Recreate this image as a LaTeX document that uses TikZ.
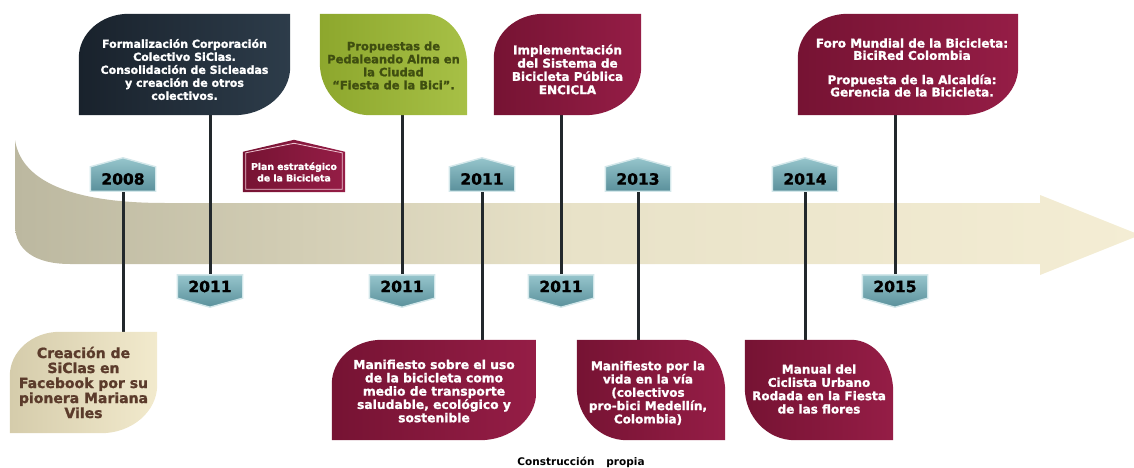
\documentclass[tikz,border=0pt]{standalone}
\usepackage{fontspec}
\setmainfont{DejaVu Sans}[BoldFeatures={FakeBold=1.3}]
\newfontfamily\capfont{DejaVu Sans}
\usetikzlibrary{calc}
\definecolor{navyL}{HTML}{19222C}
\definecolor{navyR}{HTML}{2D3C4A}
\definecolor{marL}{HTML}{761333}
\definecolor{marR}{HTML}{951D46}
\definecolor{grnL}{HTML}{8DA72D}
\definecolor{grnR}{HTML}{A7C046}
\definecolor{grnT}{HTML}{3F4E10}
\definecolor{begL}{HTML}{D5CCAB}
\definecolor{begR}{HTML}{F2EACD}
\definecolor{brnT}{HTML}{5B3B2B}
\definecolor{bandL}{HTML}{BCB8A0}
\definecolor{bandM}{HTML}{E8E2C8}
\definecolor{bandR}{HTML}{F4EDD4}
\definecolor{tealT}{HTML}{96C5CC}
\definecolor{tealB}{HTML}{5A909B}
\definecolor{tealE}{HTML}{D3E7EA}
\definecolor{lineC}{HTML}{22282C}
\definecolor{pinkE}{HTML}{EDC3D0}
\pgfdeclarelayer{bandlayer}
\pgfdeclarelayer{linelayer}
\pgfdeclarelayer{shapelayer}
\pgfsetlayers{bandlayer,linelayer,shapelayer,main}
% leaf with top-left and bottom-right rounded
\newcommand\leafA[3]{%
  \shade[left color=#2,right color=#3] (#1.south west) -- ([yshift=-44pt]#1.north west)
    .. controls ([yshift=-20pt]#1.north west) and ([xshift=22pt]#1.north west) .. ([xshift=50pt]#1.north west)
    -- (#1.north east) -- ([yshift=48pt]#1.south east)
    .. controls ([yshift=22pt]#1.south east) and ([xshift=-25pt]#1.south east) .. ([xshift=-56pt]#1.south east)
    -- cycle;}
% leaf with top-right and bottom-left rounded
\newcommand\leafB[3]{%
  \shade[left color=#2,right color=#3] (#1.north west) -- ([xshift=-42pt]#1.north east)
    .. controls ([xshift=-19pt]#1.north east) and ([yshift=-23pt]#1.north east) .. ([yshift=-52pt]#1.north east)
    -- (#1.south east) -- ([xshift=50pt]#1.south west)
    .. controls ([xshift=22pt]#1.south west) and ([yshift=24pt]#1.south west) .. ([yshift=52pt]#1.south west)
    -- cycle;}
\newcommand\badgeup[1]{%
  \shade[top color=tealT,bottom color=tealB,draw=tealE,line width=1.4pt]
    (#1.south west) -- (#1.north west) -- ([yshift=9pt]#1.north) -- (#1.north east) -- (#1.south east) -- cycle;}
\newcommand\badgedown[1]{%
  \shade[top color=tealT,bottom color=tealB,draw=tealE,line width=1.4pt]
    (#1.north west) -- (#1.north east) -- (#1.south east) -- ([yshift=-9pt]#1.south) -- (#1.south west) -- cycle;}
\begin{document}
\begin{tikzpicture}[x=1pt,y=-1pt,
  boxshape/.style={inner sep=0pt},
  boxtext/.style={inner sep=0pt, align=center},
  yearbadge/.style={inner sep=0pt, minimum width=65pt, minimum height=24pt, text=black,
    font=\fontsize{15.5}{15.5}\selectfont\bfseries},
  conn/.style={draw=lineC, line width=3pt}]
\useasboundingbox (0,0) rectangle (1134,468);

% ---------- band (arrow) ----------
\begin{pgfonlayer}{bandlayer}
\shade[left color=bandL, right color=bandR, middle color=bandM]
  (15,140) .. controls (22,185) and (80,203) .. (165,203) -- (1040,203) -- (1040,195)
  -- (1140,235) -- (1040,275) -- (1040,264) -- (70,264)
  .. controls (35,264) and (15,250) .. (15,225) -- cycle;
\end{pgfonlayer}

% ---------- top boxes ----------
\node[boxshape, minimum width=211pt, minimum height=101pt] (form) at (184.5,64.5) {};
\node[boxtext, text=white, font=\fontsize{11}{13}\selectfont\bfseries] (formtxt) at ([yshift=-5pt]form.center)
  {Formalización Corporación\\Colectivo SiClas.\\Consolidación de Sicleadas\\y creación de otros\\colectivos.};
\node[boxshape, minimum width=147pt, minimum height=101pt] (prop) at (393.5,64.5) {};
\node[boxtext, text=grnT, font=\fontsize{11.5}{13}\selectfont\bfseries] (proptxt) at ([yshift=-1pt]prop.center)
  {Propuestas de\\Pedaleando Alma en\\la Ciudad\\“Fiesta de la Bici”.};
\node[boxshape, minimum width=147pt, minimum height=101pt] (encic) at (567.5,64.5) {};
\node[boxtext, text=white, font=\fontsize{12}{13.3}\selectfont\bfseries] (encictxt) at ([yshift=-5pt]encic.center)
  {Implementación\\del Sistema de\\Bicicleta Pública\\ENCICLA};
\node[boxshape, minimum width=220pt, minimum height=101pt] (foro) at (908,64.5) {};
\node[boxtext, text=white, font=\fontsize{12}{12.3}\selectfont\bfseries] (forotxt) at ([shift={(4pt,-3pt)}]foro.center)
  {Foro Mundial de la Bicicleta:\\BiciRed Colombia\\[12pt]Propuesta de la Alcaldía:\\Gerencia de la Bicicleta.};

% ---------- bottom boxes ----------
\node[boxshape, minimum width=147pt, minimum height=101pt] (creacion) at (83.5,382.5) {};
\node[boxtext, text=brnT, font=\fontsize{14}{15}\selectfont\bfseries] (creaciontxt) at (creacion.center)
  {Creación de\\SiClas en\\Facebook por su\\pionera Mariana\\Viles};
\node[boxshape, minimum width=204pt, minimum height=100pt] (manuso) at (434,390) {};
\node[boxtext, text=white, font=\fontsize{12.3}{13.3}\selectfont\bfseries] (manusotxt) at ([yshift=-1pt]manuso.center)
  {Manifiesto sobre el uso\\de la bicicleta como\\medio de transporte\\saludable, ecológico y\\sostenible};
\node[boxshape, minimum width=148pt, minimum height=100pt] (manvida) at (651,390) {};
\node[boxtext, text=white, font=\fontsize{12}{13.3}\selectfont\bfseries] (manvidatxt) at ([shift={(-3pt,-3pt)}]manvida.center)
  {Manifiesto por la\\vida en la vía\\(colectivos\\pro-bici Medellín,\\Colombia)};
\node[boxshape, minimum width=148pt, minimum height=100pt] (manual) at (819,390) {};
\node[boxtext, text=white, font=\fontsize{12}{13.3}\selectfont\bfseries] (manualtxt) at ([yshift=1pt]manual.center)
  {Manual del\\Ciclista Urbano\\Rodada en la Fiesta\\de las flores};

% ---------- year badges ----------
\node[yearbadge] (y2008) at (123,179) {2008};
\node[yearbadge] (y2011) at (482,179) {2011};
\node[yearbadge] (y2013) at (638,179) {2013};
\node[yearbadge] (y2014) at (805,179) {2014};
\node[yearbadge, minimum height=23pt] (b2011a) at (210,286.5) {2011};
\node[yearbadge, minimum height=23pt] (b2011b) at (402,286.5) {2011};
\node[yearbadge, minimum height=23pt] (b2011c) at (561,286.5) {2011};
\node[yearbadge, minimum height=23pt] (b2015) at (895,286.5) {2015};

% ---------- plan badge ----------
\node[inner sep=0pt, minimum width=102pt, minimum height=40pt, align=center, text=white,
  font=\fontsize{9.3}{11.5}\selectfont\bfseries] (plan) at (294,172) {Plan estratégico\\de la Bicicleta};

% ---------- caption ----------
\node[font=\capfont\fontsize{10.5}{12}\selectfont\bfseries, text=black] (cap) at (581,462)
  {Construcción\hspace{12pt}propia};

% ---------- shapes ----------
\begin{pgfonlayer}{shapelayer}
\leafA{form}{navyL}{navyR}
\leafB{prop}{grnL}{grnR}
\leafA{encic}{marL}{marR}
\leafA{foro}{marL}{marR}
\leafA{creacion}{begL}{begR}
\leafA{manuso}{marL}{marR}
\leafB{manvida}{marL}{marR}
\leafB{manual}{marL}{marR}
\badgeup{y2008}
\badgeup{y2011}
\badgeup{y2013}
\badgeup{y2014}
\badgedown{b2011a}
\badgedown{b2011b}
\badgedown{b2011c}
\badgedown{b2015}
\shade[left color=marL, right color=marR]
  (plan.south west) -- (plan.north west) -- ([yshift=12pt]plan.north) -- (plan.north east) -- (plan.south east) -- cycle;
\draw[pinkE, line width=0.8pt]
  ([shift={(3pt,3pt)}]plan.south west) -- ([shift={(3pt,-1pt)}]plan.north west) -- ([yshift=8.5pt]plan.north)
  -- ([shift={(-3pt,-1pt)}]plan.north east) -- ([shift={(-3pt,3pt)}]plan.south east) -- cycle;
\end{pgfonlayer}

% ---------- connectors ----------
\begin{pgfonlayer}{linelayer}
\draw[conn] (y2008.south) -- (y2008.south |- creacion.north);
\draw[conn] (y2011.south) -- (y2011.south |- manuso.north);
\draw[conn] (y2013.south) -- (y2013.south |- manvida.north);
\draw[conn] (y2014.south) -- (y2014.south |- manual.north);
\draw[conn] (form.south -| b2011a.north) -- (b2011a.north);
\draw[conn] (prop.south -| b2011b.north) -- (b2011b.north);
\draw[conn] (encic.south -| b2011c.north) -- (b2011c.north);
\draw[conn] (foro.south -| b2015.north) -- (b2015.north);
\end{pgfonlayer}
\end{tikzpicture}
\end{document}
